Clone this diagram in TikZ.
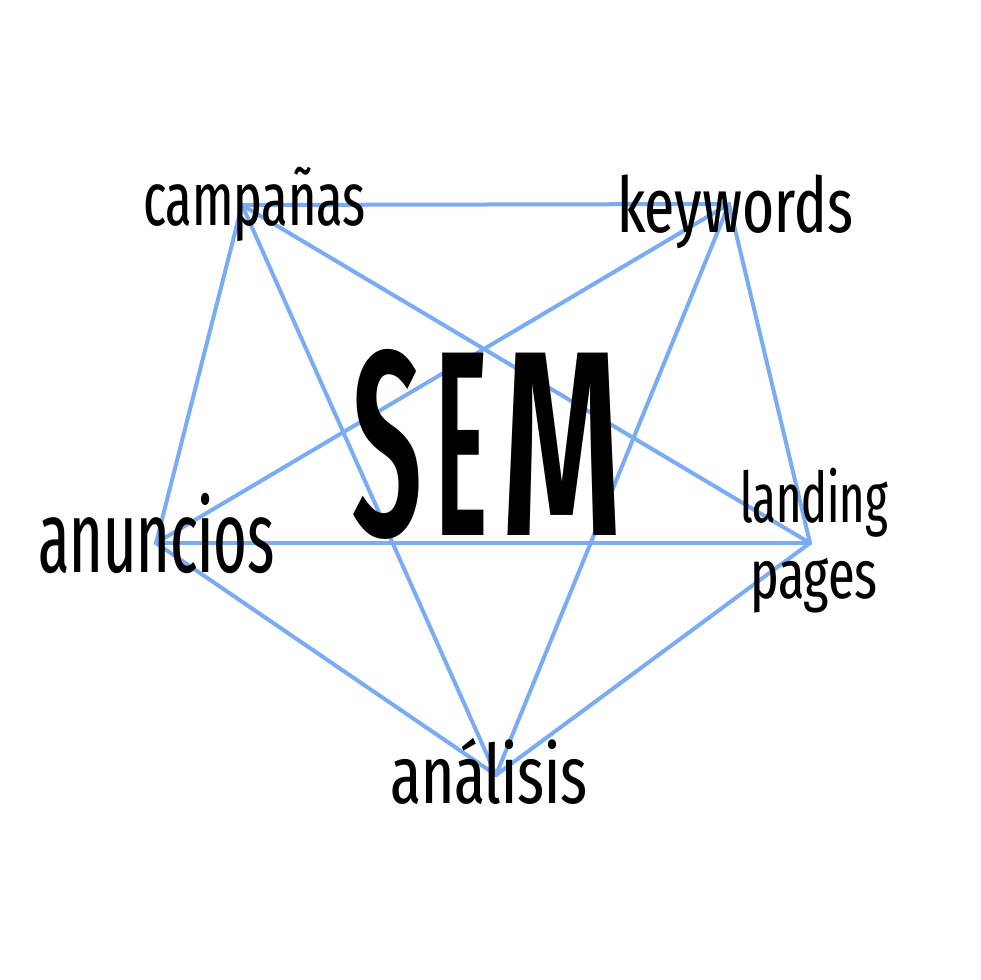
\documentclass[tikz,border=0pt]{standalone}
\usepackage{fontspec}
\setmainfont{Fira Sans}
\newfontfamily\labfont{Fira Sans Extra Condensed}
\newfontfamily\semfont{Fira Sans Extra Condensed Medium}
\usepackage{graphicx}
\definecolor{edgeblue}{RGB}{122,171,245}
\begin{document}
\begin{tikzpicture}[x=1pt,y=-1pt,
  edge/.style={draw=edgeblue,line width=4pt,line cap=round,line join=round},
  lab/.style={inner sep=0pt,outer sep=0pt,anchor=base west,text=black}]
\useasboundingbox (0,0) rectangle (980,980);
% vertices
\coordinate (C) at (242,205);
\coordinate (K) at (729,204);
\coordinate (L) at (810,543);
\coordinate (N) at (496,775);
\coordinate (A) at (156,543);
% edges
\foreach \p/\q in {C/K,C/L,C/N,C/A,K/L,K/N,K/A,L/N,L/A,N/A}
  \draw[edge] (\p) -- (\q);
% labels
\node[lab,font=\labfont\fontsize{76}{76}\selectfont] (campanas) at (143,225) {\resizebox{223pt}{\height}{campañas}};
\node[lab,font=\labfont\fontsize{77}{77}\selectfont] (keywords) at (617,232) {\resizebox{236pt}{\height}{keywords}};
\node[lab,font=\labfont\fontsize{70}{70}\selectfont] (landing) at (740,522) {\resizebox{148pt}{\height}{landing}};
\node[lab,font=\labfont\fontsize{69}{69}\selectfont] (pages) at (750,598) {\resizebox{128pt}{\height}{pages}};
\node[lab,font=\labfont\fontsize{102}{102}\selectfont] (anuncios) at (38,572) {\resizebox{237pt}{\height}{anuncios}};
\node[lab,font=\labfont\fontsize{82}{82}\selectfont] (analisis) at (390,803) {\resizebox{198pt}{\height}{análisis}};
\node[lab,font=\semfont\fontsize{264}{264}\selectfont] (sem) at (352,535) {\resizebox{70pt}{\height}{S}\hspace{13pt}\resizebox{52pt}{\height}{E}\hspace{13pt}\resizebox{123pt}{\height}{M}};
\end{tikzpicture}
\end{document}
